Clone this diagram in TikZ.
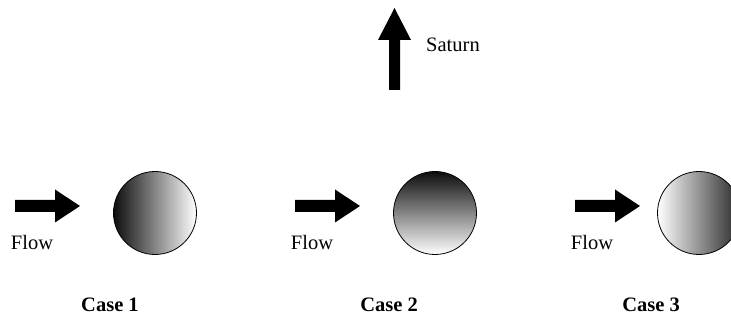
\documentclass[tikz,border=0pt]{standalone}
\usepackage{fontspec}
\setmainfont{Liberation Serif}
\begin{document}
\begin{tikzpicture}[x=1pt,y=1pt,
  lbl/.style={font=\fontsize{20.5}{24}\selectfont, inner sep=0pt},
  casel/.style={lbl, font=\fontsize{20.5}{24}\selectfont\bfseries},
  ball/.style={circle, minimum size=83pt, inner sep=0pt, draw=black, line width=0.8pt},
  pics/flowarrow/.style={code={\fill[black] (0,-6) -- (40,-6) -- (40,-16.5) -- (65,0) -- (40,16.5) -- (40,6) -- (0,6) -- cycle;}}]
\useasboundingbox (0,0) rectangle (731,320);
% flow arrows
\pic at (15,114) {flowarrow};
\pic at (295,114) {flowarrow};
\pic at (575,114) {flowarrow};
% Saturn arrow
\fill[black] (389,230) -- (400,230) -- (400,280) -- (411,280) -- (394.5,312) -- (378,280) -- (389,280) -- cycle;
\node[lbl] (sat) at (453,275) {Saturn};
% balls
\node[ball, left color=black!95, right color=white] (b1) at (155,107) {};
\node[ball, top color=black!95, bottom color=white] (b2) at (435,107) {};
\node[ball, left color=white, right color=black!85] (b3) at (699,107) {};
% labels
\node[lbl] (f1) at (32,78) {Flow};
\node[lbl] (f2) at (312,78) {Flow};
\node[lbl] (f3) at (592,78) {Flow};
\node[casel] (c1) at (110,15) {Case 1};
\node[casel] (c2) at (389,15) {Case 2};
\node[casel] (c3) at (651,15) {Case 3};
\end{tikzpicture}
\end{document}
